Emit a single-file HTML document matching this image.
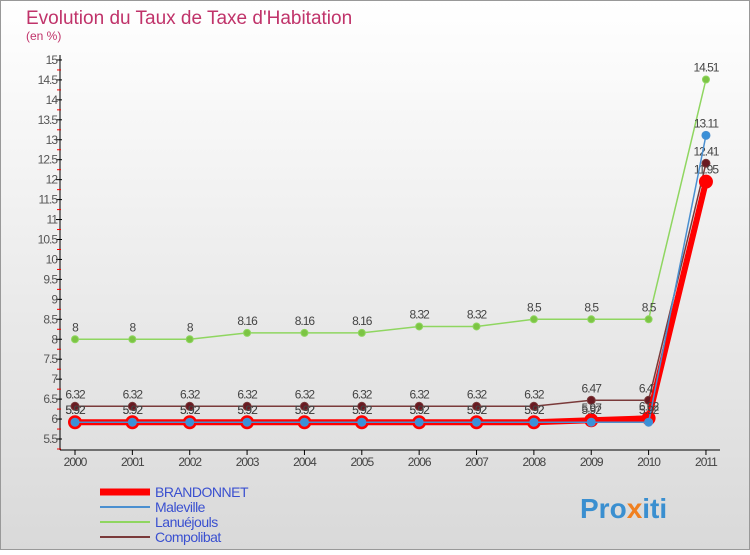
<!DOCTYPE html>
<html><head><meta charset="utf-8"><style>
body{margin:0;width:750px;height:550px;overflow:hidden;font-family:"Liberation Sans",sans-serif}
</style></head><body>
<svg id="c" width="750" height="550" xmlns="http://www.w3.org/2000/svg">
<defs><linearGradient id="bg" x1="0" y1="0" x2="0" y2="1"><stop offset="0" stop-color="#ffffff"/><stop offset="1" stop-color="#d9d9d9"/></linearGradient></defs>
<rect x="0.5" y="0.5" width="749" height="549" fill="url(#bg)" stroke="#999"/>
<text x="26" y="24" font-size="19" fill="#c0336a">Evolution du Taux de Taxe d'Habitation</text>
<text x="26" y="40" font-size="12" fill="#c0336a">(en %)</text>
<g id="axes"></g><g id="series"></g><g id="legend"></g>
<text x="580" y="518" font-size="28" font-weight="bold" fill="#3a8fd0">Pro<tspan fill="#f08020">x</tspan>iti</text>
</svg>
<script>
const years=["2000","2001","2002","2003","2004","2005","2006","2007","2008","2009","2010","2011"];
const brandonnet=[5.92,5.92,5.92,5.92,5.92,5.92,5.92,5.92,5.92,5.97,6.02,11.95];
const maleville=[5.92,5.92,5.92,5.92,5.92,5.92,5.92,5.92,5.92,5.92,5.92,13.11];
const lanuejouls=[8,8,8,8.16,8.16,8.16,8.32,8.32,8.5,8.5,8.5,14.51];
const compolibat=[6.32,6.32,6.32,6.32,6.32,6.32,6.32,6.32,6.32,6.47,6.47,12.41];
const yTicks=[5.5,6,6.5,7,7.5,8,8.5,9,9.5,10,10.5,11,11.5,12,12.5,13,13.5,14,14.5,15];
const NS="http://www.w3.org/2000/svg";
const X=i=>75+i*57.36, Y=v=>439-(v-5.5)*39.9;
function mk(t,a,p){const e=document.createElementNS(NS,t);for(const k in a)e.setAttribute(k,a[k]);(p||document.getElementById('series')).appendChild(e);return e;}
const ax=document.getElementById('axes');
let e=mk('line',{x1:60,y1:55,x2:60,y2:450,stroke:'#000'},ax);

e=mk('line',{x1:60,y1:450,x2:720,y2:450,stroke:'#000'},ax);

yTicks.forEach(v=>{const y=Y(v);
 e=mk('line',{x1:56,y1:y,x2:62,y2:y,stroke:'#000'},ax);
 
 e=mk('line',{x1:57,y1:y+10,x2:61,y2:y+10,stroke:'#e00'},ax);
 
 e=mk('text',{x:57,y:y+4,'font-size':12,fill:'#555','text-anchor':'end','letter-spacing':'-1'},ax);e.textContent=String(v);
 });
years.forEach((yr,i)=>{
 e=mk('line',{x1:X(i),y1:450,x2:X(i),y2:455,stroke:'#000'},ax);
 
 e=mk('text',{x:X(i),y:466,'font-size':12,fill:'#444','text-anchor':'middle','letter-spacing':'-1'},ax);e.textContent=yr;
 });
function series(d,col,w,r,pc,name,lab){
 const g=mk('g',{});
 e=mk('polyline',{points:d.map((v,i)=>X(i)+','+Y(v)).join(' '),fill:'none',stroke:col,'stroke-width':w},g);
 
 d.forEach((v,i)=>{e=mk('circle',{cx:X(i),cy:Y(v),r:r,fill:pc,stroke:col,'stroke-width':1},g);
  
  if(lab){e=mk('text',{x:X(i),y:Y(v)-8,'font-size':12,fill:'#444','text-anchor':'middle','letter-spacing':'-1'},g);e.textContent=String(v);
  }});
}
series(lanuejouls,'#8fd660',1.5,3.5,'#7cc444','lanuejouls',true);
series(compolibat,'#7a3a3a',1.5,4,'#6a1a22','compolibat',true);
series(brandonnet,'#ff0000',6,6.5,'#ff0000','brandonnet',true);
series(maleville,'#4a8fd0',1.5,4,'#3a90d8','maleville',true);
const lg=document.getElementById('legend');
[['BRANDONNET','#ff0000',7],['Maleville','#4a8fd0',2],['Lanuéjouls','#8fd660',2],['Compolibat','#7a3a3a',2]].forEach((l,i)=>{
 const y=492+i*15;
 e=mk('line',{x1:100,y1:y,x2:150,y2:y,stroke:l[1],'stroke-width':l[2]},lg);
 
 e=mk('text',{x:155,y:y+5,'font-size':14,fill:'#3a50d0','letter-spacing':'-0.5'},lg);e.textContent=l[0];
 });
</script>
</body></html>
